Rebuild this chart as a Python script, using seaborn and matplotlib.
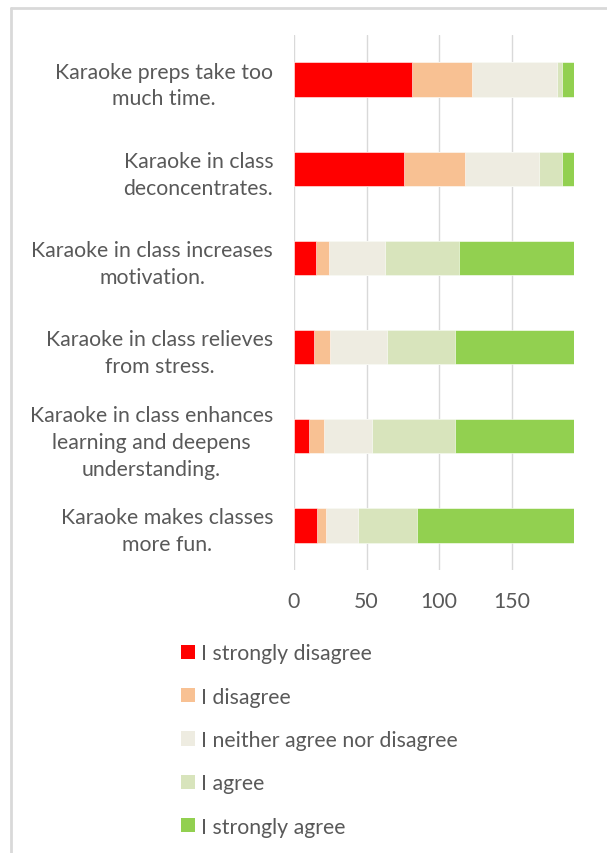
import numpy as np
import pandas as pd
import matplotlib.pyplot as plt
from matplotlib.patches import Patch
from matplotlib.lines import Line2D
import seaborn as sns

# statements (top to bottom) and answer counts per response level
statements = [
    "Karaoke preps take too\nmuch time.",
    "Karaoke in class\ndeconcentrates.",
    "Karaoke in class increases\nmotivation.",
    "Karaoke in class relieves\nfrom stress.",
    "Karaoke in class enhances\nlearning and deepens\nunderstanding.",
    "Karaoke makes classes\nmore fun.",
]
levels = ["I strongly disagree", "I disagree", "I neither agree nor disagree",
          "I agree", "I strongly agree"]
strongly_disagree = [81, 76, 15, 14, 10, 16]
disagree = [42, 42, 9, 11, 11, 6]
neutral = [58, 51, 39, 39, 33, 22]
agree = [4, 16, 51, 47, 57, 41]
strongly_agree = [8, 8, 79, 82, 82, 108]
colors = ["#FF0000", "#F8C193", "#EEECE1", "#D8E4BC", "#92D050"]

df = pd.DataFrame({"statement": statements,
                   levels[0]: strongly_disagree, levels[1]: disagree,
                   levels[2]: neutral, levels[3]: agree, levels[4]: strongly_agree})
cum = df[levels].cumsum(axis=1)
cum["statement"] = df["statement"]

sns.set_style("white")
plt.rcParams["font.family"] = ["Lato", "DejaVu Sans"]
text_color = "#595959"
fs = 15.3

fig = plt.figure(figsize=(6.07, 8.54), dpi=100)
ax = fig.add_axes([294 / 607, 1 - 571 / 854, 280 / 607, 535 / 854])

# stacked bars: draw cumulative totals from the back to the front
for lvl, col in reversed(list(zip(levels, colors))):
    sns.barplot(data=cum, x=lvl, y="statement", color=col, orient="h",
                width=0.385, edgecolor="white", linewidth=0.4, ax=ax,
                saturation=1)

ax.set_xlim(0, cum[levels[-1]].max())
ax.set_xticks([0, 50, 100, 150])
ax.set_yticks(range(len(statements)))
ax.set_yticklabels(statements, linespacing=1.43, multialignment="center")
ax.set_xlabel("")
ax.set_ylabel("")
ax.grid(axis="x", color="#D9D9D9", linewidth=1)
ax.set_axisbelow(True)
for s in ax.spines.values():
    s.set_visible(False)
ax.tick_params(axis="x", length=0, pad=15, labelsize=fs, labelcolor=text_color)
ax.tick_params(axis="y", length=0, pad=15, labelsize=fs, labelcolor=text_color)

handles = [Patch(facecolor=c, edgecolor="none") for c in colors]
fig.legend(handles, levels, loc="upper left", bbox_to_anchor=(162 / 607, 1 - 625 / 854),
           frameon=False, fontsize=fs, labelcolor=text_color,
           handlelength=0.65, handleheight=0.65, handletextpad=0.3,
           labelspacing=1.10)

# light outer chart border (top and left edges visible)
fig.add_artist(Line2D([11 / 607, 1], [1 - 9 / 854, 1 - 9 / 854], color="#D9D9D9", lw=2))
fig.add_artist(Line2D([11 / 607, 11 / 607], [0, 1 - 9 / 854], color="#D9D9D9", lw=2))

fig.savefig("out.png", dpi=100)
